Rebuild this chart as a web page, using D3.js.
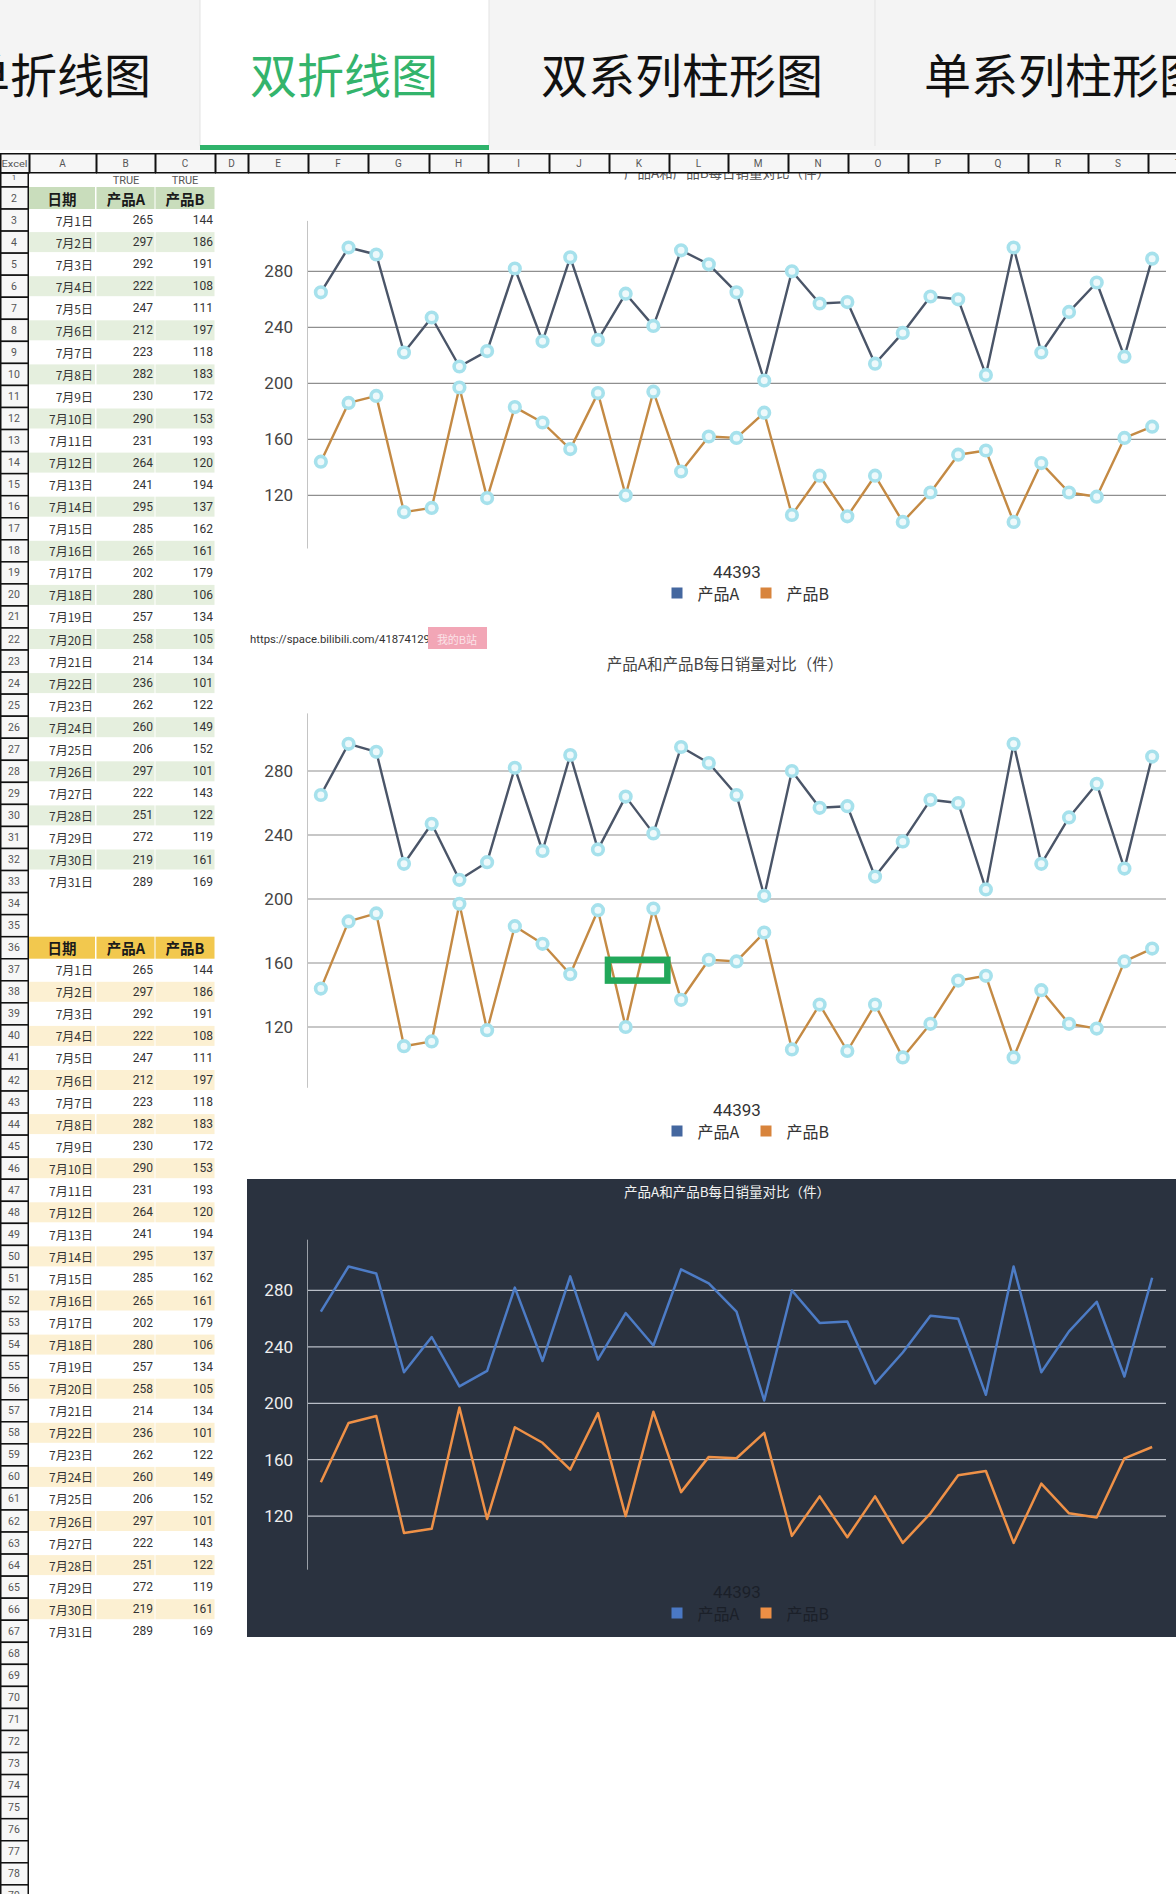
<!DOCTYPE html>
<html><head><meta charset="utf-8">
<script src="https://cdn.jsdelivr.net/npm/d3@7"></script>
<style>body{margin:0;background:#fff;overflow:hidden}svg{display:block}</style>
</head><body><svg id="c" width="1176" height="1894"></svg>
<script>
// ---------- data ----------
const dates = ["7月1日","7月2日","7月3日","7月4日","7月5日","7月6日","7月7日","7月8日","7月9日","7月10日",
  "7月11日","7月12日","7月13日","7月14日","7月15日","7月16日","7月17日","7月18日","7月19日","7月20日",
  "7月21日","7月22日","7月23日","7月24日","7月25日","7月26日","7月27日","7月28日","7月29日","7月30日","7月31日"];
const productA = [265,297,292,222,247,212,223,282,230,290,231,264,241,295,285,265,202,280,257,258,214,236,262,260,206,297,222,251,272,219,289];
const productB = [144,186,191,108,111,197,118,183,172,153,193,120,194,137,162,161,179,106,134,105,134,101,122,149,152,101,143,122,119,161,169];
const seriesNames = ["产品A","产品B"];
const yTicks = [120,160,200,240,280];
const tabLabels = ["单折线图","双折线图","双系列柱形图","单系列柱形图"];
const columnLetters = ["Excel","A","B","C","D","E","F","G","H","I","J","K","L","M","N","O","P","Q","R","S","T"];
const tableHeaders = ["日期","产品A","产品B"];
const row1Labels = ["","TRUE","TRUE"];
const legendTitle = "44393";
const chartTitle = "产品A和产品B每日销量对比（件）";
const urlText = "https://space.bilibili.com/41874129";
const badgeText = "我的B站";

// ---------- layout ----------
const svg = d3.select("#c");
const CJK = "'Noto Sans CJK SC','Noto Sans',sans-serif";
const NUM = "Roboto,'Noto Sans CJK SC',sans-serif";
const colEdges = [0,29,96,155,215,248,308,368,429,488,549,609,669,728,788,848,908,968,1028,1088,1148,1208];
const rowTop = n => n === 1 ? 173 : 187 + (n-2)*22.05;
const rowBot = n => n === 1 ? 187 : 187 + (n-1)*22.05;
const rowMid = n => (rowTop(n)+rowBot(n))/2;

// ---------- charts ----------
const x = d3.scalePoint().domain(dates).range([307,1166]).padding(0.5);
const yDomain = [82,316];

function drawChart(cfg){
  const g = svg.append("g");
  if (cfg.bg) g.append("rect").attr("x",247).attr("y",1179).attr("width",929).attr("height",458).attr("fill",cfg.bg);
  const y = d3.scaleLinear().domain(yDomain).range(cfg.yRange);
  g.append("text").attr("x",cfg.titleX).attr("y",cfg.titleY).attr("text-anchor","middle")
    .attr("dominant-baseline","central").attr("font-family",CJK).attr("font-size",cfg.titleSize)
    .attr("fill",cfg.titleColor).text(chartTitle);
  g.selectAll(".grid").data(yTicks).enter().append("line")
    .attr("x1",307).attr("x2",1166).attr("y1",d=>y(d)).attr("y2",d=>y(d))
    .attr("stroke",cfg.gridColor).attr("stroke-width",1.2);
  g.append("line").attr("x1",307.5).attr("x2",307.5).attr("y1",y(yDomain[1])).attr("y2",y(yDomain[0]))
    .attr("stroke",cfg.axisColor).attr("stroke-width",1);
  const axis = d3.axisLeft(y).tickValues(yTicks).tickSize(0).tickPadding(14);
  const ag = g.append("g").attr("transform","translate(307,0)").call(axis);
  ag.select(".domain").remove();
  ag.selectAll("text").attr("font-family",NUM).attr("font-size",17).attr("fill",cfg.tickColor);
  const series = [productA, productB];
  series.forEach((vals,i)=>{
    const line = d3.line().x((d,j)=>x(dates[j])).y(d=>y(d));
    g.append("path").datum(vals).attr("d",line).attr("fill","none")
      .attr("stroke",cfg.lineColors[i]).attr("stroke-width",cfg.lineWidth).attr("stroke-linejoin","round");
  });
  if (cfg.markers){
    series.forEach(vals=>{
      g.append("g").selectAll("circle").data(vals).enter().append("circle")
        .attr("cx",(d,j)=>x(dates[j])).attr("cy",d=>y(d)).attr("r",5.3)
        .attr("fill","#eef9fb").attr("stroke","#a6e1ec").attr("stroke-width",3.6);
    });
  }
  g.append("text").attr("x",737).attr("y",cfg.legTitleY).attr("text-anchor","middle").attr("dominant-baseline","central")
    .attr("font-family",NUM).attr("font-size",17).attr("fill",cfg.legendText).text(legendTitle);
  const legX = [671.5, 760.5];
  seriesNames.forEach((s,i)=>{
    g.append("rect").attr("x",legX[i]).attr("y",cfg.legY-5.5).attr("width",11).attr("height",11).attr("fill",cfg.legendColors[i]);
    g.append("text").attr("x",legX[i]+26).attr("y",cfg.legY).attr("dominant-baseline","central")
      .attr("font-family",CJK).attr("font-size",16).attr("fill",cfg.legendText).text(s);
  });
  return {g,y};
}

drawChart({yRange:[548.5,220.9], titleX:727, titleY:172, titleSize:13.5, titleColor:"#555",
  gridColor:"#8f8f8f", axisColor:"#c4c4c4", tickColor:"#444", lineColors:["#4a5568","#c48a44"], lineWidth:2.4,
  markers:true, legTitleY:572, legY:593, legendText:"#333", legendColors:["#44679f","#d8843c"]});

const c2 = drawChart({yRange:[1087.8,713.4], titleX:725, titleY:663, titleSize:15.5, titleColor:"#444",
  gridColor:"#8f8f8f", axisColor:"#c4c4c4", tickColor:"#444", lineColors:["#4a5568","#c48a44"], lineWidth:2.4,
  markers:true, legTitleY:1110, legY:1131, legendText:"#333", legendColors:["#44679f","#d8843c"]});
// green highlight box on chart 2
c2.g.append("rect").attr("x",x(dates[10])+10).attr("y",c2.y(162)).attr("width",x(dates[12])-x(dates[10])+4)
  .attr("height",c2.y(149)-c2.y(162)).attr("fill","none").attr("stroke","#22a85a").attr("stroke-width",6.5);

drawChart({bg:"#2a323f", yRange:[1569.7,1239.7], titleX:727, titleY:1191, titleSize:13.5, titleColor:"#f2f2f2",
  gridColor:"#b9bec7", axisColor:"#9aa0a8", tickColor:"#eeeeee", lineColors:["#4d7cc6","#ef9147"], lineWidth:2.5,
  markers:false, legTitleY:1592, legY:1613, legendText:"#1b2029", legendColors:["#4a78c4","#ee8f45"]});

// url + badge
svg.append("text").attr("x",250).attr("y",639).attr("dominant-baseline","central").attr("font-family",NUM)
  .attr("font-size",10.5).attr("fill","#333").attr("textLength",180).attr("lengthAdjust","spacingAndGlyphs").text(urlText);
svg.append("rect").attr("x",428).attr("y",627).attr("width",59).attr("height",22).attr("fill","#f2a6b6");
svg.append("text").attr("x",457).attr("y",638.5).attr("text-anchor","middle").attr("dominant-baseline","central")
  .attr("font-family",CJK).attr("font-size",11).attr("fill","#fbe3e8").text(badgeText);

// ---------- spreadsheet ----------
function drawTable(startRow, headBg, bandBg){
  const t = svg.append("g");
  const cols = [[29,96],[96,155],[155,215]];
  cols.forEach((c,i)=>{
    t.append("rect").attr("x",c[0]+(i?0.5:0)).attr("y",rowTop(startRow)).attr("width",c[1]-c[0]-1).attr("height",22)
      .attr("fill",headBg);
    t.append("text").attr("x",[62,126,185][i]).attr("y",rowMid(startRow)).attr("text-anchor","middle")
      .attr("dominant-baseline","central").attr("font-family",CJK).attr("font-weight",700).attr("font-size",14.5)
      .attr("fill","#1a1a1a").text(tableHeaders[i]);
  });
  dates.forEach((d,j)=>{
    const r = startRow+1+j;
    if (j%2===1) cols.forEach((c,i)=>{
      t.append("rect").attr("x",c[0]+(i?0.5:0)).attr("y",rowTop(r)+1).attr("width",c[1]-c[0]-1).attr("height",20).attr("fill",bandBg);
    });
    const vals = [d, productA[j], productB[j]];
    [93,153,213].forEach((xx,i)=>{
      t.append("text").attr("x",xx).attr("y",rowMid(r)).attr("text-anchor","end").attr("dominant-baseline","central")
        .attr("font-family",i? NUM : CJK).attr("font-size",12).attr("fill","#333").text(vals[i]);
    });
  });
}
drawTable(2,"#c9ddbc","#e5efde");
drawTable(36,"#f2c84e","#fcf0d2");
row1Labels.forEach((s,i)=>{
  svg.append("text").attr("x",[62,126,185][i]).attr("y",180).attr("text-anchor","middle").attr("dominant-baseline","central")
    .attr("font-family",NUM).attr("font-size",11).attr("fill","#555").text(s);
});

const rows = d3.range(1,80);
const rh = svg.append("g");
rows.forEach(n=>{
  rh.append("rect").attr("x",0.75).attr("y",rowTop(n)).attr("width",27.5).attr("height",rowBot(n)-rowTop(n))
    .attr("fill","#f7f7f7").attr("stroke","#111").attr("stroke-width",1.5);
  rh.append("text").attr("x",14).attr("y",rowMid(n)+(n===1?-3:0)).attr("text-anchor","middle").attr("dominant-baseline","central")
    .attr("font-family",NUM).attr("font-size",n===1?8:10.5).attr("fill","#555").text(n);
});

const chg = svg.append("g");
chg.append("rect").attr("x",0).attr("y",150).attr("width",1176).attr("height",23).attr("fill","#ffffff");
columnLetters.forEach((c,i)=>{
  chg.append("rect").attr("x",colEdges[i]+0.75).attr("y",153.75).attr("width",colEdges[i+1]-colEdges[i]-0.5).attr("height",19)
    .attr("fill","#f6f6f6").attr("stroke","#111").attr("stroke-width",1.5);
  chg.append("text").attr("x",(colEdges[i]+colEdges[i+1])/2).attr("y",163.5).attr("text-anchor","middle").attr("dominant-baseline","central")
    .attr("font-family",NUM).attr("font-size",i?10:9).attr("fill","#555")
    .attr("textLength", i?null:26).attr("lengthAdjust","spacingAndGlyphs").text(c);
});

// ---------- tabs ----------
const tabs = svg.append("g");
tabs.append("rect").attr("x",0).attr("y",0).attr("width",1176).attr("height",150).attr("fill","#f4f4f4");
tabs.append("rect").attr("x",200).attr("y",0).attr("width",289).attr("height",150).attr("fill","#ffffff");
[200,489,875].forEach(xx=>tabs.append("line").attr("x1",xx).attr("x2",xx).attr("y1",0).attr("y2",146).attr("stroke","#e3e3e3"));
tabs.append("rect").attr("x",200).attr("y",145).attr("width",289).attr("height",5).attr("fill","#2fb36b");
const tabPos = [{x:151,a:"end"},{x:344,a:"middle"},{x:682,a:"middle"},{x:924,a:"start"}];
tabLabels.forEach((t,i)=>{
  tabs.append("text").attr("x",tabPos[i].x).attr("y",72).attr("text-anchor",tabPos[i].a).attr("dominant-baseline","central")
    .attr("font-family",CJK).attr("font-size",47).attr("fill", i===1?"#33b46c":"#111").text(t);
});
</script></body></html>
